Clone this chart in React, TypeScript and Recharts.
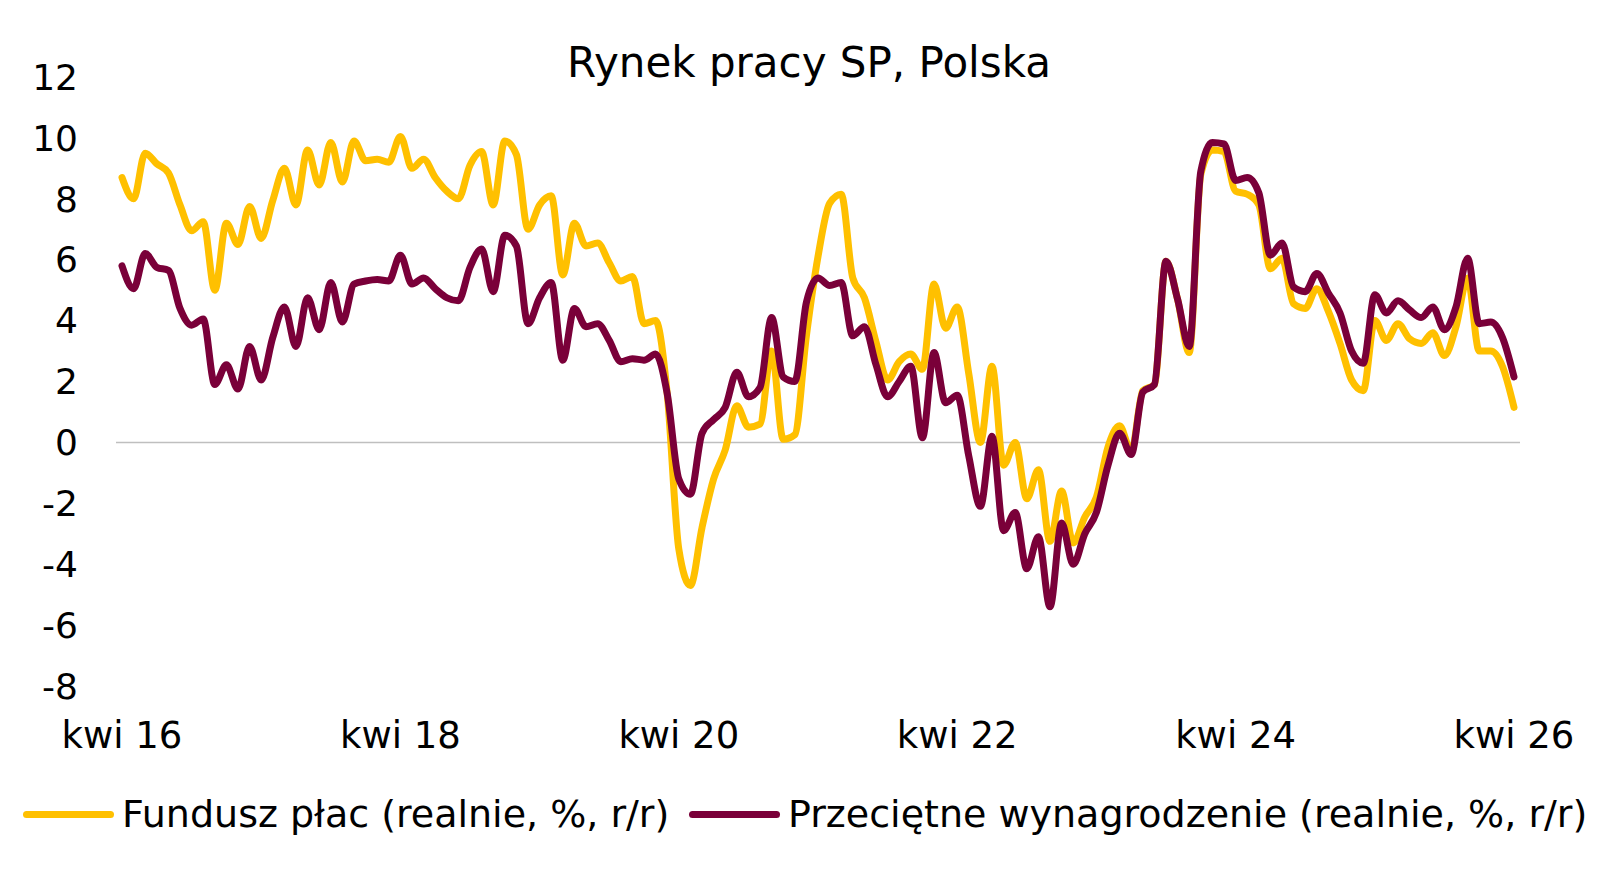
import { LineChart, Line, XAxis, YAxis, ReferenceLine } from 'recharts';

// Rynek pracy SP, Polska — monthly, kwi 16 .. kwi 26 (121 points)
const TICK_LABELS = ['kwi 16', 'kwi 18', 'kwi 20', 'kwi 22', 'kwi 24', 'kwi 26'];
const X_TICKS = [0, 24, 48, 72, 96, 120];
const Y_TICKS = [-8, -6, -4, -2, 0, 2, 4, 6, 8, 10, 12];

const SERIES_NAMES = [
  'Fundusz płac (realnie, %, r/r)',
  'Przeciętne wynagrodzenie (realnie, %, r/r)',
];

// Fundusz płac (realnie, %, r/r)
const funduszPlac = [
  8.7, 8.0, 9.5, 9.15, 8.85, 7.8, 6.95, 7.25, 5.0, 7.2,
  6.5, 7.75, 6.7, 7.95, 9.0, 7.8, 9.6, 8.45, 9.85, 8.55,
  9.9, 9.25, 9.3, 9.2, 10.05, 9.0, 9.3, 8.7, 8.25, 8.0,
  9.1, 9.55, 7.8, 9.9, 9.45, 7.0, 7.8, 8.1, 5.5, 7.2,
  6.45, 6.55, 5.9, 5.3, 5.45, 3.9, 4.0, 1.6, -3.5, -4.7,
  -2.8, -1.2, -0.25, 1.2, 0.5, 0.6, 3.0, 0.1, 0.25, 3.5,
  6.1, 7.85, 8.15, 5.4, 4.75, 3.3, 2.05, 2.65, 2.9, 2.4,
  5.2, 3.75, 4.45, 2.25, 0.0, 2.5, -0.75, 0.0, -1.85, -0.9,
  -3.25, -1.6, -3.3, -2.45, -1.8, -0.15, 0.55, -0.3, 1.7, 1.9,
  5.95, 4.7, 2.95, 8.8, 9.6, 9.55, 8.25, 8.15, 7.8, 5.7,
  6.05, 4.55, 4.4, 5.05, 4.3, 3.25, 2.05, 1.7, 4.0, 3.35,
  3.9, 3.4, 3.25, 3.6, 2.85, 3.8, 5.4, 3.0, 3.0, 2.5,
  1.15,
];

// Przeciętne wynagrodzenie (realnie, %, r/r)
const przecietneWynagrodzenie = [
  5.8, 5.05, 6.2, 5.75, 5.65, 4.4, 3.85, 4.05, 1.9, 2.55,
  1.75, 3.15, 2.05, 3.45, 4.45, 3.15, 4.75, 3.7, 5.25, 3.95,
  5.2, 5.3, 5.35, 5.3, 6.15, 5.2, 5.4, 5.05, 4.75, 4.65,
  5.75, 6.35, 4.95, 6.8, 6.45, 3.9, 4.75, 5.25, 2.7, 4.4,
  3.8, 3.9, 3.35, 2.65, 2.75, 2.7, 2.9, 1.6, -1.2, -1.7,
  0.3, 0.75, 1.15, 2.3, 1.5, 1.8, 4.1, 2.15, 2.0, 4.6,
  5.4, 5.15, 5.25, 3.5, 3.8, 2.55, 1.5, 2.0, 2.5, 0.15,
  2.95, 1.3, 1.55, -0.45, -2.1, 0.2, -2.9, -2.3, -4.15, -3.1,
  -5.4, -2.65, -4.0, -3.0, -2.3, -0.75, 0.3, -0.4, 1.65, 1.9,
  5.95, 4.7, 3.15, 8.9, 9.85, 9.8, 8.6, 8.7, 8.2, 6.15,
  6.55, 5.1, 4.95, 5.55, 4.9, 4.25, 3.0, 2.6, 4.85, 4.25,
  4.65, 4.35, 4.1, 4.45, 3.7, 4.45, 6.05, 3.9, 3.95, 3.45,
  2.15,
];

const COLORS = ['#FFC000', '#7A0039'];
const FONT = '"DejaVu Sans", Verdana, sans-serif';

const data = funduszPlac.map((v, i) => ({
  m: i,
  fundusz: v,
  przecietne: przecietneWynagrodzenie[i],
}));

function LegendItem({ color, label, left }: { color: string; label: string; left: number }) {
  return (
    <div
      style={{
        position: 'absolute',
        left,
        top: 792,
        height: 44,
        display: 'flex',
        alignItems: 'center',
        whiteSpace: 'nowrap',
      }}
    >
      <span
        style={{
          display: 'inline-block',
          width: 91,
          height: 7,
          borderRadius: 4,
          background: color,
          marginRight: 8,
        }}
      />
      <span style={{ fontSize: 38, lineHeight: '44px', color: '#000' }}>{label}</span>
    </div>
  );
}

export default function App() {
  return (
    <div
      style={{
        position: 'absolute',
        left: 0,
        top: 0,
        width: 1618,
        height: 881,
        background: '#fff',
        fontFamily: FONT,
        overflow: 'hidden',
      }}
    >
      <div
        style={{
          position: 'absolute',
          top: 38,
          left: 0,
          width: 1618,
          textAlign: 'center',
          fontSize: 42,
          lineHeight: '50px',
          color: '#000',
        }}
      >
        Rynek pracy SP, Polska
      </div>

      <LineChart
        width={1618}
        height={881}
        data={data}
        margin={{ top: 77, right: 98, bottom: 135, left: 0 }}
        style={{ fontFamily: FONT }}
      >
        <XAxis
          type="number"
          dataKey="m"
          domain={[0, 120]}
          ticks={X_TICKS}
          interval={0}
          tickFormatter={(v: number) => TICK_LABELS[Math.round(v / 24)]}
          padding={{ left: 6, right: 6 }}
          axisLine={false}
          tickLine={false}
          tickSize={0}
          tickMargin={36}
          height={60}
          tick={{ fontSize: 37, fill: '#000' }}
        />
        <YAxis
          type="number"
          domain={[-8, 12]}
          ticks={Y_TICKS}
          interval={0}
          axisLine={false}
          tickLine={false}
          tickSize={0}
          tickMargin={38}
          width={116}
          tick={{ fontSize: 36, fill: '#000' }}
        />
        <ReferenceLine y={0} stroke="#bfbfbf" strokeWidth={1.5} />
        <Line
          type="monotone"
          dataKey="fundusz"
          name={SERIES_NAMES[0]}
          stroke={COLORS[0]}
          strokeWidth={7}
          strokeLinecap="round"
          strokeLinejoin="round"
          dot={false}
          activeDot={false}
          isAnimationActive={false}
        />
        <Line
          type="monotone"
          dataKey="przecietne"
          name={SERIES_NAMES[1]}
          stroke={COLORS[1]}
          strokeWidth={7}
          strokeLinecap="round"
          strokeLinejoin="round"
          dot={false}
          activeDot={false}
          isAnimationActive={false}
        />
      </LineChart>

      <LegendItem color={COLORS[0]} label={SERIES_NAMES[0]} left={23} />
      <LegendItem color={COLORS[1]} label={SERIES_NAMES[1]} left={689} />
    </div>
  );
}
